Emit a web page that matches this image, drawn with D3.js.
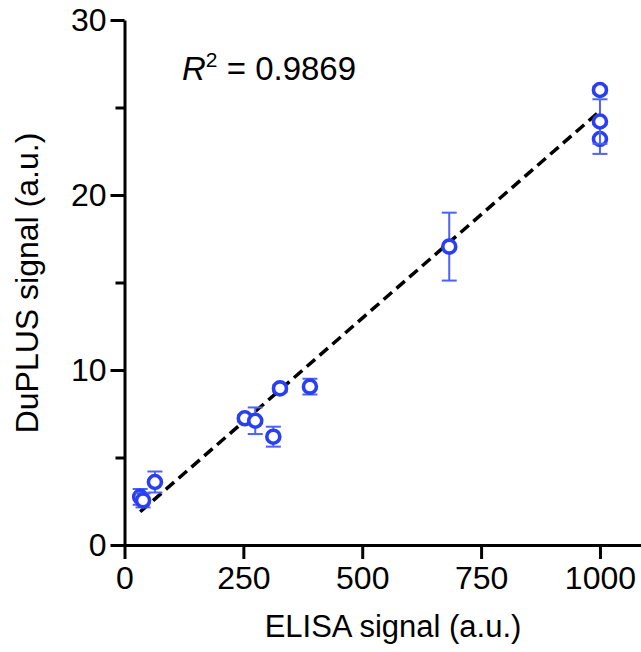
<!DOCTYPE html>
<html>
<head>
<script src="https://d3js.org/d3.v7.min.js"></script>
<style>
  body { margin: 0; background: white; }
  svg { display: block; font-family: 'Liberation Sans', Arial, sans-serif; }
</style>
</head>
<body>
<div class="chart"></div>
<script>
  // ELISA signal (x), DuPLUS signal mean (y) and its error
  const elisa  = [33, 39, 64, 253, 275, 313, 327, 390, 683, 1000, 1000, 1000];
  const duplus = [2.75, 2.55, 3.6, 7.24, 7.1, 6.19, 8.95, 9.05, 17.05, 23.2, 24.2, 26.0];
  const errs   = [0.45, 0.4, 0.6, 0.2, 0.76, 0.57, 0.2, 0.45, 1.94, 0.85, 1.27, 0.2];

  // linear fit end points
  const fitX = [33, 1000];
  const fitY = [1.9, 24.8];

  const xTicks = [0, 250, 500, 750, 1000];
  const yTicks = [0, 10, 20, 30];
  const yMinor = [5, 15, 25];

  const w = 641, h = 652;
  const blue = "#2a3ef2";
  const barBlue = "#4d62f6";

  const x = d3.scaleLinear().domain([0, 1100]).range([124.5, 647.5]);
  const y = d3.scaleLinear().domain([0, 30]).range([545, 20]);

  const svg = d3.select(".chart").append("svg")
      .attr("width", w)
      .attr("height", h);

  // axes
  const gx = svg.append("g")
      .attr("transform", "translate(0," + y(0) + ")")
      .call(d3.axisBottom(x).tickValues(xTicks).tickFormat(d3.format("d"))
        .tickSize(14).tickSizeOuter(0).tickPadding(7));
  const gy = svg.append("g")
      .attr("transform", "translate(" + x(0) + ",0)")
      .call(d3.axisLeft(y).tickValues(yTicks).tickSize(14).tickSizeOuter(0).tickPadding(4));
  const gm = svg.append("g")
      .attr("transform", "translate(" + x(0) + ",0)")
      .call(d3.axisLeft(y).tickValues(yMinor).tickSize(9).tickFormat(""));
  gm.select(".domain").remove();

  [gx, gy, gm].forEach(g => {
    g.selectAll("path, line").attr("stroke", "#000").attr("stroke-width", 3);
    g.selectAll("text").attr("fill", "#000").attr("font-size", 32)
      .attr("font-family", "'Liberation Sans', Arial, sans-serif");
  });

  // fit line
  svg.append("line")
      .attr("x1", x(fitX[0])).attr("y1", y(fitY[0]))
      .attr("x2", x(fitX[1])).attr("y2", y(fitY[1]))
      .attr("stroke", "#000")
      .attr("stroke-width", 3.5)
      .attr("stroke-dasharray", "11,6");

  // points with error bars
  const pts = svg.selectAll("g.pt")
      .data(elisa.map((d, i) => [d, duplus[i], errs[i]]))
      .enter().append("g").attr("class", "pt");

  pts.append("line")
      .attr("x1", d => x(d[0])).attr("x2", d => x(d[0]))
      .attr("y1", d => y(d[1] + d[2])).attr("y2", d => y(d[1] - d[2]))
      .attr("stroke", barBlue).attr("stroke-width", 2);
  pts.append("line")
      .attr("x1", d => x(d[0]) - 7.5).attr("x2", d => x(d[0]) + 7.5)
      .attr("y1", d => y(d[1] + d[2])).attr("y2", d => y(d[1] + d[2]))
      .attr("stroke", barBlue).attr("stroke-width", 2);
  pts.append("line")
      .attr("x1", d => x(d[0]) - 7.5).attr("x2", d => x(d[0]) + 7.5)
      .attr("y1", d => y(d[1] - d[2])).attr("y2", d => y(d[1] - d[2]))
      .attr("stroke", barBlue).attr("stroke-width", 2);
  pts.append("circle")
      .attr("cx", d => x(d[0]))
      .attr("cy", d => y(d[1]))
      .attr("r", 6.5)
      .attr("fill", "white")
      .attr("stroke", blue)
      .attr("stroke-width", 3.6);

  // R squared
  const r2 = svg.append("text")
      .attr("x", 182).attr("y", 80)
      .attr("font-size", 33).attr("fill", "#000");
  r2.append("tspan").attr("font-style", "italic").text("R");
  r2.append("tspan").attr("font-size", 21).attr("dy", -13).text("2");
  r2.append("tspan").attr("dy", 13).text(" = 0.9869");

  // axis titles
  svg.append("text")
      .attr("x", 393).attr("y", 637)
      .attr("text-anchor", "middle")
      .attr("font-size", 31)
      .text("ELISA signal (a.u.)");
  svg.append("text")
      .attr("transform", "translate(38,283) rotate(-90)")
      .attr("text-anchor", "middle")
      .attr("font-size", 32)
      .text("DuPLUS signal (a.u.)");
</script>
</body>
</html>
